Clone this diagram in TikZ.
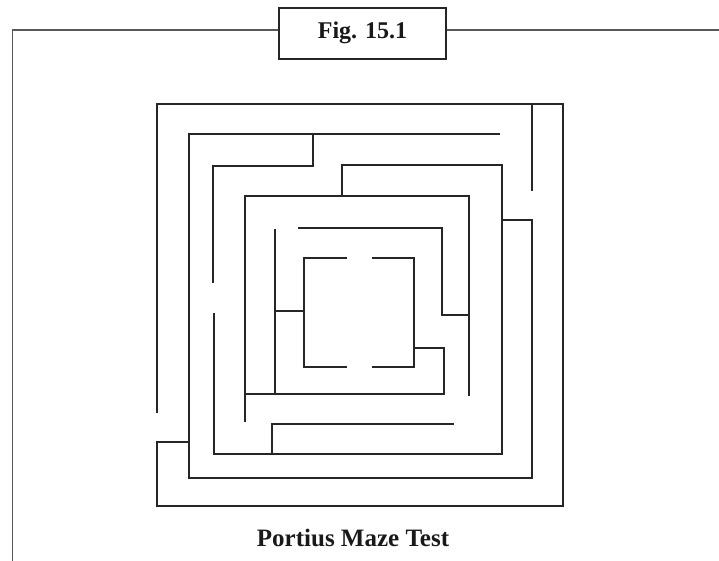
\documentclass[tikz,border=0pt]{standalone}
\usepackage{fontspec}
\setmainfont{Liberation Serif}
\begin{document}
\begin{tikzpicture}[x=1pt,y=-1pt,
  maze/.style={draw=black!85,line width=1.2pt},
  frame/.style={draw=black!65,line width=1.2pt},
  figbox/.style={draw=black!85,line width=1.1pt,minimum width=167pt,minimum height=51pt,inner sep=0pt},
  captext/.style={font=\fontsize{25}{30}\selectfont\bfseries,text=black!90,inner sep=0pt}]
\useasboundingbox (0,0) rectangle (719,561);
% frame and figure box
\node[figbox] (box) at (362.5,33.5) {};
\node[captext,font=\fontsize{24}{28}\selectfont\bfseries,anchor=base] (figtxt) at (362.5,38.5) {Fig. 15.1};
\coordinate (fl) at (12.5,30);
\coordinate (fr) at (719,30);
\coordinate (fb) at (12.5,561);
\draw[frame] (fb) -- (fl) -- (box.west |- fl);
\draw[frame] (box.east |- fr) -- (fr);
% maze
\draw[maze] (157,413) -- (157,104) -- (563,104) -- (563,506) -- (157,506) -- (157,442) -- (189,442);
\draw[maze] (532,104) -- (532,191);
\draw[maze] (500,134) -- (189,134) -- (189,478) -- (532,478) -- (532,220) -- (502,220);
\draw[maze] (313,134) -- (313,166) -- (213,166) -- (213,283);
\draw[maze] (214,313) -- (214,454) -- (502,454) -- (502,165) -- (342,165) -- (342,196);
\draw[maze] (272,454) -- (272,424) -- (454,424);
\draw[maze] (245,422) -- (245,196) -- (469,196) -- (469,396);
\draw[maze] (298,228) -- (442,228) -- (442,315) -- (469,315);
\draw[maze] (275,229) -- (275,394);
\draw[maze] (245,394) -- (444,394) -- (444,348) -- (414,348);
\draw[maze] (372,258) -- (414,258) -- (414,367) -- (372,367);
\draw[maze] (347,258) -- (304,258) -- (304,367) -- (347,367);
\draw[maze] (275,311) -- (304,311);
% caption
\node[captext,anchor=base] (cap) at (353,546.5) {Portius Maze Test};
\end{tikzpicture}
\end{document}
